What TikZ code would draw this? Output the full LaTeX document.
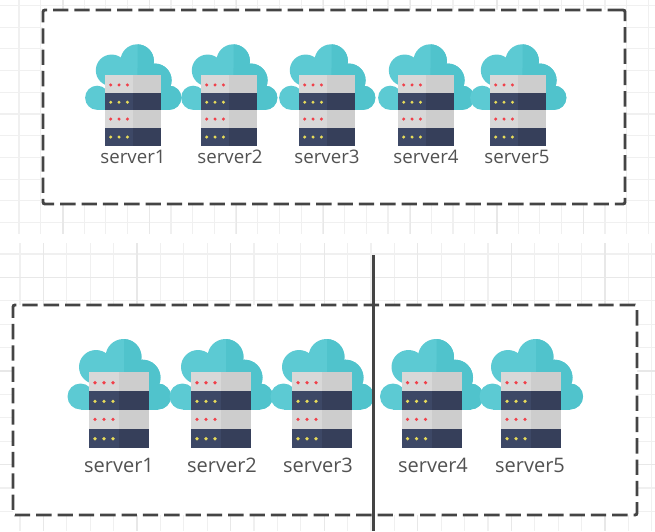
\documentclass[tikz,border=0pt]{standalone}
\usepackage{fontspec}
\setmainfont{Open Sans}
\usetikzlibrary{positioning}

\definecolor{cloudlight}{HTML}{5CCAD3}
\definecolor{clouddark}{HTML}{50C3CC}
\definecolor{racklight}{HTML}{D8D8D8}
\definecolor{rackgray}{HTML}{CDCDCD}
\definecolor{rackblue}{HTML}{3D4866}
\definecolor{rackdeep}{HTML}{363F5A}
\definecolor{ledred}{HTML}{F0404A}
\definecolor{ledyellow}{HTML}{E8DC5A}
\definecolor{gridline}{HTML}{F0F0F0}
\definecolor{gridmajor}{HTML}{E8E8E8}
\definecolor{framegray}{HTML}{444444}

\tikzset{
  serverpic/.pic={
    \foreach \cx/\cy/\cr in {-38.5/24.5/13, 39/24.5/13, -23/-5/17, 4.5/-15/18, 23.5/5.7/18}
      \fill[cloudlight] (\cx,\cy) circle (\cr);
    \fill[cloudlight] (-38.5,24) rectangle (39,37.5);
    \fill[cloudlight] (-27,-8) rectangle (31,37.5);
    \begin{scope}
      \clip (5,-40) rectangle (60,40);
      \foreach \cx/\cy/\cr in {39/24.5/13, 4.5/-15/18, 23.5/5.7/18}
        \fill[clouddark] (\cx,\cy) circle (\cr);
      \fill[clouddark] (-38.5,24) rectangle (39,37.5);
      \fill[clouddark] (-27,-8) rectangle (31,37.5);
    \end{scope}
    \foreach \top/\lft/\rgt in {0/racklight/rackgray, 19/rackblue/rackdeep, 38/racklight/rackgray, 57/rackblue/rackdeep} {
      \fill[\lft] (-30,\top) rectangle (0,\top+19);
      \fill[\rgt] (0,\top) rectangle (30,\top+19);
    }
    \foreach \dx in {-24,-15,-6} {
      \foreach \dy/\led in {10.7/ledred, 29.3/ledyellow, 47.4/ledred, 66.7/ledyellow}
        \fill[\led] (\dx,\dy) circle (1.8);
    }
  }
}

\begin{document}
\begin{tikzpicture}[x=0.75pt, y=-0.75pt]
  \tikzstyle{gridrule}=[draw = gridline, line width = 0.9pt]
  \tikzstyle{gridbold}=[draw = gridmajor, line width = 1pt]
  \tikzstyle{groupbox}=[rectangle, draw = framegray, fill = white, line width = 2.2pt, dash pattern = on 11.5pt off 4.5pt, rounded corners = 1.5pt, inner sep = 0pt]
  \tikzstyle{divider}=[draw = framegray, line width = 2pt]
  \tikzstyle{servername}=[text = black!68, inner sep = 0pt]

  \useasboundingbox (0,0) rectangle (655,531);

  % background grid
  \foreach \x in {19,40.7,...,655}
    \draw[gridrule] (\x,0) -- (\x,234);
  \foreach \y in {5.5,27.2,...,234}
    \draw[gridrule] (0,\y) -- (655,\y);
  \foreach \x in {20,43.4,...,655}
    \draw[gridrule] (\x,243) -- (\x,531);
  \foreach \y in {254,277.4,...,531}
    \draw[gridrule] (0,\y) -- (655,\y);
  \foreach \x in {63,149.8,...,655}
    \draw[gridbold] (\x,0) -- (\x,234);
  \foreach \x in {43.4,137,...,655}
    \draw[gridbold] (\x,243) -- (\x,531);
  \foreach \y in {277.4,371,...,531}
    \draw[gridbold] (0,\y) -- (655,\y);

  \node[groupbox, minimum width = 436.5pt, minimum height = 145.5pt] (topgroup) at (334,107) {};
  \node[groupbox, minimum width = 468pt, minimum height = 157.5pt] (botgroup) at (325,410) {};

  % upper row
  \foreach \pos/\lab/\n in {133/133/1, 229/230/2, 327/327/3, 426/426/4, 518/517/5} {
    \pic[scale = 0.93] at (\pos,75) {serverpic};
    \node[servername, font = \fontsize{14pt}{16pt}\selectfont] (topname\n) at (\lab,157) {server\n};
  }

  % lower row
  \foreach \pos/\lab/\n in {119/119/1, 221/222/2, 322/318/3, 431.5/433/4, 531/530/5} {
    \pic at (\pos,372) {serverpic};
    \node[servername, font = \fontsize{15pt}{17pt}\selectfont] (botname\n) at (\lab,465) {server\n};
  }

  \coordinate (divtop) at (373.5,255);
  \coordinate (divbot) at (373.5,531);
  \draw[divider] (divtop) -- (divbot);
\end{tikzpicture}
\end{document}
